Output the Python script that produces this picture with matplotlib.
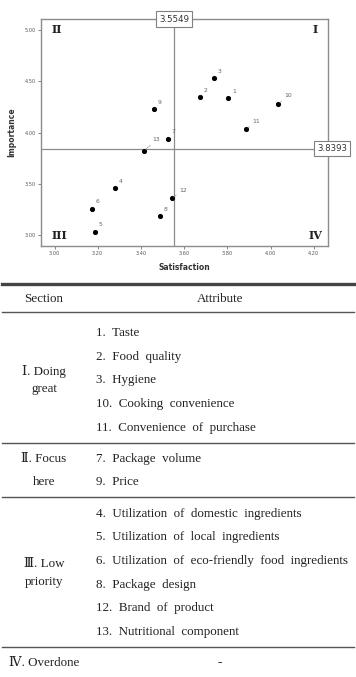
import matplotlib.pyplot as plt
from matplotlib.lines import Line2D

# IPA data (Satisfaction vs Importance)
item_ids = ["1", "2", "3", "4", "5", "6", "7", "8", "9", "10", "11", "12", "13"]
satisfaction = [3.805, 3.672, 3.738, 3.280, 3.189, 3.174, 3.525, 3.490, 3.461, 4.036, 3.888, 3.545, 3.416]
importance = [4.336, 4.346, 4.532, 3.458, 3.032, 3.258, 3.941, 3.183, 4.225, 4.278, 4.032, 3.360, 3.824]
mean_sat = 3.5549
mean_imp = 3.8393

x_ticks = [3.00, 3.20, 3.40, 3.60, 3.80, 4.00, 4.20]
y_ticks = [3.00, 3.50, 4.00, 4.50, 5.00]

sections = [["Ⅰ. Doing", "great"], ["Ⅱ. Focus", "here"], ["Ⅲ. Low", "priority"], ["Ⅳ. Overdone"]]
attributes = [
    ["1.  Taste", "2.  Food  quality", "3.  Hygiene", "10.  Cooking  convenience",
     "11.  Convenience  of  purchase"],
    ["7.  Package  volume", "9.  Price"],
    ["4.  Utilization  of  domestic  ingredients", "5.  Utilization  of  local  ingredients",
     "6.  Utilization  of  eco-friendly  food  ingredients", "8.  Package  design",
     "12.  Brand  of  product", "13.  Nutritional  component"],
    ["-"],
]

W, H = 356, 677
fig = plt.figure(figsize=(W / 100, H / 100), dpi=100)


def fy(y):
    return 1 - y / H


def fx(x):
    return x / W


# ---- scatter (IPA grid) ----
ax = fig.add_axes([fx(41), fy(245.7), fx(328) - fx(41), fy(19) - fy(245.7)])
ax.set_xlim(2.9375, 4.266)
ax.set_ylim(2.895, 5.108)
frame_c = "#8c8c8c"
for s in ax.spines.values():
    s.set_color(frame_c)
    s.set_linewidth(1.0)
ax.axvline(mean_sat, color=frame_c, lw=0.9)
ax.axhline(mean_imp, color=frame_c, lw=0.9)
ax.plot(satisfaction, importance, "o", color="black", ms=2.7, zorder=3)

offsets = {"10": (4, 4), "11": (4, 4), "12": (5, 4), "13": (6, 6)}
for sx, iy, lab in zip(satisfaction, importance, item_ids):
    off = offsets.get(lab, (2.5, 3))
    ax.annotate(lab, (sx, iy), xytext=off, textcoords="offset points",
                fontsize=4.4, color="#666666", ha="left", va="bottom",
                arrowprops=dict(arrowstyle="-", color="#888888", lw=0.4,
                                shrinkA=0, shrinkB=1.2))

ax.set_xticks(x_ticks)
ax.set_yticks(y_ticks)
ax.set_xticklabels([f"{v:.2f}" for v in x_ticks])
ax.set_yticklabels([f"{v:.2f}" for v in y_ticks])
ax.tick_params(labelsize=3.6, length=2, width=0.5, pad=1.5, colors="#555555")
ax.set_xlabel("Satisfaction", fontsize=5.5, fontweight="bold", color="#333333", labelpad=5)
ax.set_ylabel("Importance", fontsize=5.5, fontweight="bold", color="#333333", labelpad=6)

box = dict(boxstyle="square,pad=0.35", fc="white", ec="#808080", lw=0.8)
ax.text(mean_sat, 1.0, f"{mean_sat:.4f}", transform=ax.get_xaxis_transform(),
        ha="center", va="center", fontsize=6.2, color="#333333", bbox=box, clip_on=False, zorder=5)
ax.text(1.014, mean_imp, f"{mean_imp:.4f}", transform=ax.get_yaxis_transform(),
        ha="center", va="center", fontsize=6.2, color="#333333", bbox=box, clip_on=False, zorder=5)

rn = dict(fontsize=8, fontweight="bold", family="DejaVu Serif", transform=ax.transAxes, color="#222222")
ax.text(0.035, 0.955, "II", ha="left", va="center", **rn)
ax.text(0.955, 0.955, "I", ha="center", va="center", **rn)
ax.text(0.035, 0.045, "III", ha="left", va="center", **rn)
ax.text(0.955, 0.045, "IV", ha="center", va="center", **rn)

# ---- table ----
serif = ["Liberation Serif", "DejaVu Serif"]
tc = "#222222"
fs = 9.4
sec_x = 44
attr_x = 96


def hline(y, lw, color="#555555"):
    fig.add_artist(Line2D([fx(2), fx(354)], [fy(y), fy(y)], lw=lw, color=color))


hline(284, 2.4, "#444444")
fig.text(fx(sec_x), fy(298.5), "Section", ha="center", va="center", fontsize=fs, family=serif, color=tc)
fig.text(fx(220), fy(298.5), "Attribute", ha="center", va="center", fontsize=fs, family=serif, color=tc)
hline(312, 1.0)

y = 333
step = 23.7
for g, (sec, attrs) in enumerate(zip(sections, attributes)):
    rows = []
    for a in attrs:
        if a == "-":
            fig.text(fx(220), fy(y), a, ha="center", va="center", fontsize=fs, family=serif, color=tc)
        else:
            fig.text(fx(attr_x), fy(y), a, ha="left", va="center", fontsize=fs, family=serif, color=tc)
        rows.append(y)
        y += step
    mid = (rows[0] + rows[-1]) / 2
    if len(sec) == 1:
        fig.text(fx(sec_x), fy(mid), sec[0], ha="center", va="center", fontsize=fs, family=serif, color=tc)
    elif len(rows) == 2:
        for r, s in zip(rows, sec):
            fig.text(fx(sec_x), fy(r), s, ha="center", va="center", fontsize=fs, family=serif, color=tc)
    else:
        fig.text(fx(sec_x), fy(mid - 9), sec[0], ha="center", va="center", fontsize=fs, family=serif, color=tc)
        fig.text(fx(sec_x), fy(mid + 9), sec[1], ha="center", va="center", fontsize=fs, family=serif, color=tc)
    if g < len(sections) - 1:
        last = rows[-1]
        hline(last + 15, 1.0)
        y = last + 31

fig.savefig("out.png", dpi=100)
